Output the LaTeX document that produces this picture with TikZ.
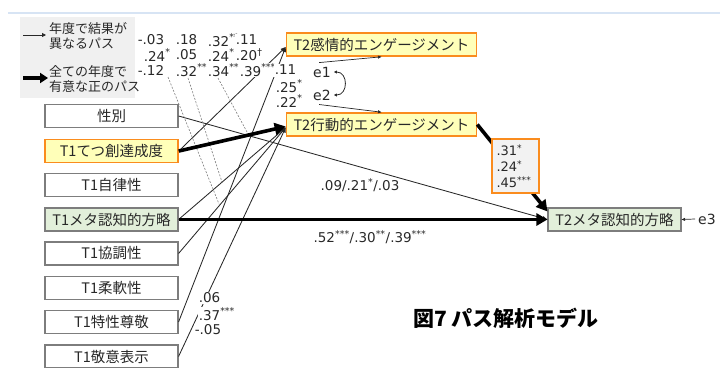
\documentclass[tikz,border=0pt]{standalone}
\usepackage{fontspec}
\setmainfont{DejaVu Sans}
\newfontfamily\jp{Noto Sans CJK JP}
\usetikzlibrary{arrows.meta}
\definecolor{orangeb}{RGB}{250,140,30}
\definecolor{yellowf}{RGB}{255,255,185}
\definecolor{greenf}{RGB}{226,239,218}
\definecolor{grayb}{RGB}{125,125,125}
\definecolor{legendf}{RGB}{240,240,240}
\definecolor{coeff}{RGB}{242,242,242}
\definecolor{topline}{RGB}{215,228,244}
\definecolor{ink}{RGB}{40,40,40}
\newcommand\sg[1]{\textsuperscript{#1}}
\tikzset{
  lbox/.style={draw=grayb, line width=1.1pt, fill=white, minimum width=133pt, minimum height=23pt, inner sep=0pt, text=ink, font=\jp\fontsize{14.5}{16}\selectfont},
  gbox/.style={lbox, fill=greenf},
  obox/.style={lbox, draw=orangeb, line width=1.6pt, fill=yellowf},
  num/.style={font=\fontsize{13.5}{15}\selectfont, inner sep=0.6pt, text=ink, fill=white, anchor=west},
  thinarr/.style={draw=ink, line width=0.85pt, -{Triangle[length=5pt,width=4pt]}},
  thickarr/.style={draw=black, line width=3.6pt, -{Triangle[length=11pt,width=12pt]}},
  dashln/.style={draw=grayb, line width=0.6pt, dash pattern=on 2pt off 1.5pt},
}
\begin{document}
\begin{tikzpicture}[x=1pt,y=-1pt]
\useasboundingbox (0,0) rectangle (728,367);
% top rule
\draw[topline, line width=1.5pt] (8,13) -- (720,13);
% legend
\node[fill=legendf, minimum width=115pt, minimum height=81pt, inner sep=0pt] (leg) at (77.5,57.5) {};
\coordinate (la1) at (23,35); \coordinate (la2) at (46,35);
\coordinate (lb1) at (23,78); \coordinate (lb2) at (48,78);
\draw[draw=ink, line width=0.8pt, -{Triangle[length=4pt,width=4pt]}] (la1) -- (la2);
\draw[draw=black, line width=3.2pt, -{Triangle[length=8pt,width=10pt]}] (lb1) -- (lb2);
\node[anchor=west, align=left, inner sep=0pt, text=ink, font=\jp\fontsize{13}{14.5}\selectfont] (legt1) at (49,36) {年度で結果が\\異なるパス};
\node[anchor=west, align=left, inner sep=0pt, text=ink, font=\jp\fontsize{13}{14.5}\selectfont] (legt2) at (49,79) {全ての年度で\\有意な正のパス};
% left boxes
\node[lbox] (sei) at (111.5,116) {性別};
\node[obox] (teko) at (111.5,151) {T1てつ創達成度};
\node[lbox] (jir) at (111.5,185) {T1自律性};
\node[gbox] (meta) at (111.5,219.5) {T1メタ認知的方略};
\node[lbox] (kyo) at (111.5,253.5) {T1協調性};
\node[lbox] (ju) at (111.5,288) {T1柔軟性};
\node[lbox] (toku) at (111.5,322) {T1特性尊敬};
\node[lbox] (kei) at (111.5,356.5) {T1敬意表示};
% right boxes
\node[obox, minimum width=190pt] (t2e) at (381.5,44.5) {T2感情的エンゲージメント};
\node[obox, minimum width=190pt] (t2k) at (381.5,124.5) {T2行動的エンゲージメント};
\node[gbox] (t2m) at (614.5,219.5) {T2メタ認知的方略};
% errors
\node[inner sep=0pt, text=ink, font=\fontsize{14}{16}\selectfont] (e1) at (322,72) {e1};
\node[inner sep=0pt, text=ink, font=\fontsize{14}{16}\selectfont] (e2) at (322,95) {e2};
\node[inner sep=0pt, text=ink, font=\fontsize{14}{16}\selectfont] (e3) at (707,219) {e3};
\draw[draw=ink, line width=0.7pt, -{Triangle[length=3.5pt,width=3pt]}] ([xshift=6pt,yshift=4pt]e1.north west) -- (t2e.south);
\draw[draw=ink, line width=0.7pt, -{Triangle[length=3.5pt,width=3pt]}] ([xshift=6pt,yshift=-4pt]e2.south west) -- (t2k.north);
\draw[draw=ink, line width=0.8pt, {Triangle[length=3pt,width=3pt]}-{Triangle[length=3pt,width=3pt]}] ([xshift=3pt]e1.east) to[out=0,in=0,looseness=1.6] ([xshift=3pt]e2.east);
\draw[draw=ink, line width=0.7pt, -{Triangle[length=3.5pt,width=3pt]}] ([xshift=-3pt]e3.west) -- (t2m.east);
% thin paths
\draw[thinarr] (teko.east) -- ([yshift=-2.5pt]t2e.west);
\draw[thinarr] (toku.east) -- ([yshift=-2.5pt]t2e.west);
\draw[thinarr] (meta.east) -- ([yshift=-3pt]t2k.west);
\draw[thinarr] (kyo.east) -- ([yshift=-3pt]t2k.west);
\draw[thinarr] (kei.east) -- ([yshift=-3pt]t2k.west);
\draw[thinarr] (sei.east) -- (t2m.west);
% dashed label leaders
\coordinate (d1a) at (168,77); \coordinate (d1b) at (219,204);
\coordinate (d2a) at (188,78); \coordinate (d2b) at (222,182);
\coordinate (d3a) at (218,78); \coordinate (d3b) at (247,132);
\draw[dashln] (d1a) -- (d1b);
\draw[dashln] (d2a) -- (d2b);
\draw[dashln] (d3a) -- (d3b);
% thick paths
\draw[thickarr] (teko.east) -- ([yshift=-2pt]t2k.west);
\draw[thickarr] (meta.east) -- (t2m.west);
\draw[thickarr] (t2k.east) -- ([yshift=-4pt]t2m.north west);
\node[draw=orangeb, line width=1.6pt, fill=coeff, minimum width=47pt, minimum height=54pt, text width=38pt, inner xsep=4.5pt, align=left, text=ink, font=\fontsize{13}{16}\selectfont] (cb) at (515.5,166) {.31\sg{*}\\.24\sg{*}\\.45\sg{***}};
% coefficient table
\node[num] (r1a) at (137,40) {-.03};
\node[num] (r1b) at (175,40) {.18};
\node[num] (r1c) at (207,40) {.32\sg{**}};
\node[num] (r1d) at (235,40) {.11};
\node[num] (r2a) at (143,55) {.24\sg{*}};
\node[num] (r2b) at (175,55) {.05};
\node[num] (r2c) at (207,55) {.24\sg{*}};
\node[num] (r2d) at (235,55) {.20\sg{†}};
\node[num] (r3a) at (137,70) {-.12};
\node[num] (r3b) at (175,70) {.32\sg{**}};
\node[num] (r3c) at (207,70) {.34\sg{**}};
\node[num] (r3d) at (239,70) {.39\sg{***}};
\node[num] (r3e) at (274,70) {.11};
\node[num] (r4e) at (275,86) {.25\sg{*}};
\node[num] (r5e) at (275,101) {.22\sg{*}};
\node[num, anchor=center, fill=none] (lsei) at (360,185) {.09/.21\sg{*}/.03};
\node[num, anchor=center, fill=none] (lmeta) at (370,237) {.52\sg{***}/.30\sg{**}/.39\sg{***}};
\node[num] (b1) at (198,298) {.06};
\node[num] (b2) at (198,314) {.37\sg{***}};
\node[num] (b3) at (194,330) {-.05};
% title
\node[text=black, inner sep=0pt, font=\jp\bfseries\fontsize{21}{23}\selectfont] (title) at (506,318) {図7 パス解析モデル};
\end{tikzpicture}
\end{document}
